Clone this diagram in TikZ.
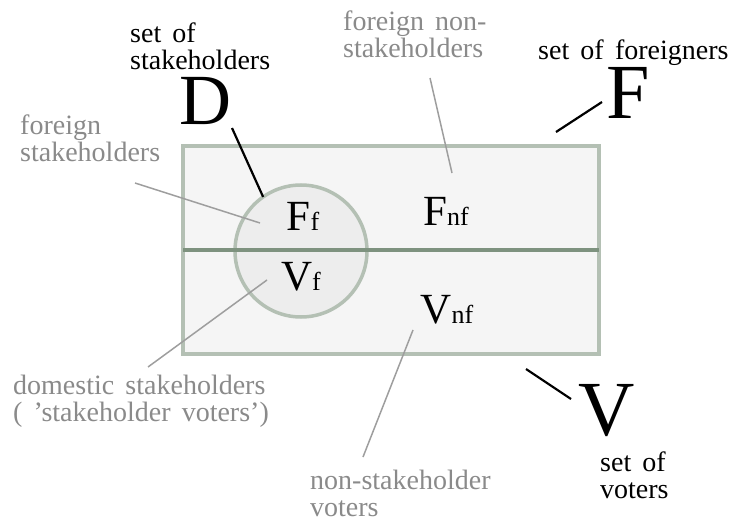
\documentclass[tikz,border=0pt]{standalone}
\usepackage{fontspec}
\setmainfont{Liberation Serif}
\usepackage{tikz}
\usepackage{xcolor}

\definecolor{flagfill}{HTML}{F5F5F5}
\definecolor{circfill}{HTML}{EDEDED}
\definecolor{flagedge}{HTML}{B4C0B4}
\definecolor{midline}{HTML}{7E927F}
\definecolor{notegray}{HTML}{8A8A8A}
\definecolor{leadgray}{HTML}{9E9E9E}

\newcommand{\notefont}{\fontsize{28}{27}\selectfont\spaceskip=0.4em plus 0.1em}
\newcommand{\regsub}[1]{{\fontsize{26}{26}\selectfont #1}}

\tikzset{
  note/.style={font=\notefont, text=notegray, align=left, inner sep=0pt},
  setname/.style={font=\notefont, text=black, align=left, inner sep=0pt},
  bigletter/.style={font=\fontsize{78}{78}\selectfont, inner sep=0pt, anchor=base},
  region/.style={font=\fontsize{43}{43}\selectfont, inner sep=0pt, anchor=base},
  lead/.style={draw=leadgray, line width=1.5pt},
  pointer/.style={draw=black, line width=2.2pt},
}

\begin{document}
\begin{tikzpicture}[x=1pt, y=-1pt]
  \useasboundingbox (0,0) rectangle (739,524);

  % the two sets, F on top and V below
  \node[draw=flagedge, fill=flagfill, line width=4pt, minimum width=416pt,
    minimum height=208pt, inner sep=0pt, outer sep=0pt] (flag) at (391,250) {};
  \node[circle, draw=flagedge, fill=circfill, line width=3.5pt,
    minimum size=132pt, inner sep=0pt, outer sep=0pt] (dset) at (301,251) {};
  \draw[midline, line width=4pt] (flag.west) -- (flag.east);

  % regions
  \node[region] (Ff) at (303,230) {F\regsub{f}};
  \node[region] (Vf) at (301,290) {V\regsub{f}};
  \node[region] (Fnf) at (446,225) {F\regsub{nf}};
  \node[region] (Vnf) at (447,323) {V\regsub{nf}};

  % set letters
  \node[bigletter, font=\fontsize{72}{72}\selectfont] (D) at (205,125) {D};
  \node[bigletter] (F) at (628,119) {F};
  \node[bigletter] (V) at (607,435) {V};

  % names of the sets
  \node[setname, anchor=north west] (setD) at (130,23) {set of\\stakeholders};
  \node[setname, anchor=base west] (setF) at (538,60) {set of foreigners};
  \node[setname, anchor=north west] (setV) at (600,452) {set of\\voters};

  % notes on the regions
  \node[note, anchor=north west] (fstake) at (20,115) {foreign\\stakeholders};
  \node[note, anchor=north west] (fnon) at (343,11) {foreign non-\\stakeholders};
  \node[note, anchor=north west] (dom) at (13,375) {domestic stakeholders\\( 'stakeholder voters')};
  \node[note, anchor=north west] (nsv) at (310,470) {non-stakeholder\\voters};

  \draw[pointer] ([xshift=27pt, yshift=-3pt]D.base) -- (dset.125);
  \draw[pointer] ([xshift=-26pt, yshift=17pt]F.base) -- ([xshift=-43pt, yshift=14pt]flag.north east);
  \draw[pointer] ([xshift=-73pt, yshift=-15pt]flag.south east) -- ([xshift=-36pt, yshift=36pt]V.base);

  \draw[lead] ([xshift=115pt, yshift=-68pt]fstake.north west) -- ([xshift=-43pt, yshift=7pt]Ff.base);
  \draw[lead] ([xshift=87pt, yshift=-67pt]fnon.north west) -- ([xshift=6pt, yshift=52pt]Fnf.base);
  \draw[lead] ([xshift=135pt, yshift=8pt]dom.north west) -- ([xshift=-34pt, yshift=10pt]Vf.base);
  \draw[lead] ([xshift=53pt, yshift=13pt]nsv.north west) -- ([xshift=-34pt, yshift=-7pt]Vnf.base);
\end{tikzpicture}
\end{document}
